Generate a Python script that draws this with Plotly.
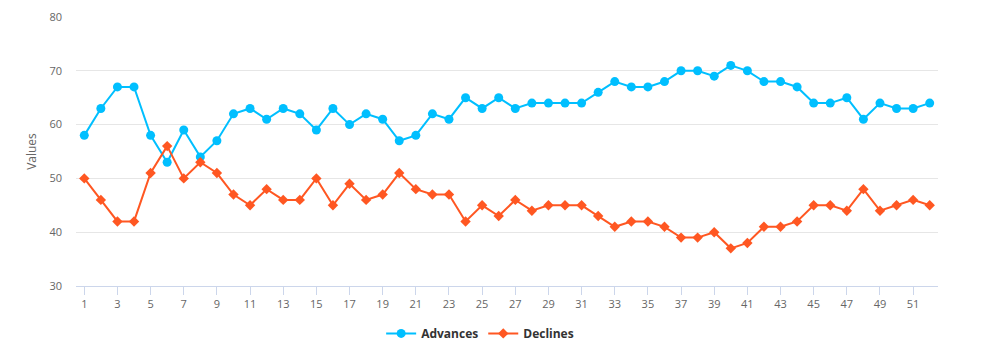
import plotly.graph_objects as go

categories = list(range(1, 53))
advances = [58, 63, 67, 67, 58, 53, 59, 54, 57, 62, 63, 61, 63, 62, 59, 63, 60, 62, 61, 57,
            58, 62, 61, 65, 63, 65, 63, 64, 64, 64, 64, 66, 68, 67, 67, 68, 70, 70, 69, 71,
            70, 68, 68, 67, 64, 64, 65, 61, 64, 63, 63, 64]
declines = [50, 46, 42, 42, 51, 56, 50, 53, 51, 47, 45, 48, 46, 46, 50, 45, 49, 46, 47, 51,
            48, 47, 47, 42, 45, 43, 46, 44, 45, 45, 45, 43, 41, 42, 42, 41, 39, 39, 40, 37,
            38, 41, 41, 42, 45, 45, 44, 48, 44, 45, 46, 45]
tick_vals = list(range(1, 53, 2))
y_ticks = [30, 40, 50, 60, 70, 80]

FONT = "Open Sans, DejaVu Sans, sans-serif"

fig = go.Figure()
fig.add_trace(go.Scatter(
    x=categories, y=advances, name="<b>Advances</b>", mode="lines+markers",
    line=dict(color="#00bfff", width=2),
    marker=dict(symbol="circle", size=9, color="#00bfff"),
))
fig.add_trace(go.Scatter(
    x=categories, y=declines, name="<b>Declines</b>", mode="lines+markers",
    line=dict(color="#ff5722", width=2),
    marker=dict(symbol="diamond", size=8, color="#ff5722"),
))

fig.update_layout(
    width=990, height=348,
    margin=dict(l=76, r=52, t=17, b=62, autoexpand=False),
    paper_bgcolor="white", plot_bgcolor="white",
    font=dict(family=FONT, size=11, color="#666666"),
    showlegend=True,
    legend=dict(orientation="h", xref="container", yref="container",
                x=0.485, xanchor="center", y=0.042, yanchor="middle",
                font=dict(size=12, color="#333333", family=FONT),
                itemwidth=30),
    xaxis=dict(
        range=[0.5, 52.5], tickmode="array", tickvals=tick_vals,
        ticktext=[str(v) for v in tick_vals],
        showgrid=False, zeroline=False,
        showline=True, linecolor="#ccd6eb", linewidth=1,
        ticks="outside", ticklen=8, tickcolor="#ccd6eb",
        tickfont=dict(size=11, color="#666666"),
    ),
    yaxis=dict(
        range=[30, 80], tickvals=y_ticks,
        showgrid=True, gridcolor="#e6e6e6", gridwidth=1,
        zeroline=False, showline=False,
        ticklabelstandoff=13,
        tickfont=dict(size=11, color="#666666"),
        title=dict(text="Values", font=dict(size=12, color="#666666"), standoff=10),
    ),
)

fig.write_html("out.html")
